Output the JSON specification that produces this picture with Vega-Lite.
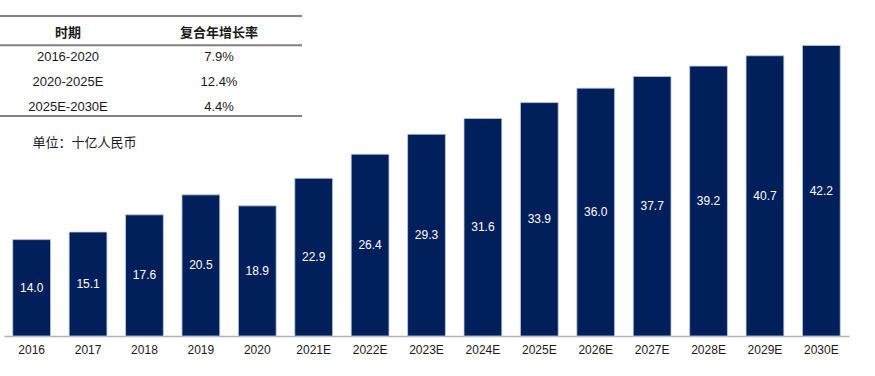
{
  "$schema": "https://vega.github.io/schema/vega-lite/v6.json",
  "width": 845,
  "height": 336,
  "autosize": {"type": "none"},
  "padding": {"left": 4, "top": 0, "right": 26, "bottom": 40},
  "background": "white",
  "config": {
    "view": {"stroke": null},
    "font": "Liberation Sans, Noto Sans CJK SC",
    "text": {"font": "Liberation Sans, Noto Sans CJK SC"}
  },
  "datasets": {
    "market": [
      {"year": "2016", "value": 14.0},
      {"year": "2017", "value": 15.1},
      {"year": "2018", "value": 17.6},
      {"year": "2019", "value": 20.5},
      {"year": "2020", "value": 18.9},
      {"year": "2021E", "value": 22.9},
      {"year": "2022E", "value": 26.4},
      {"year": "2023E", "value": 29.3},
      {"year": "2024E", "value": 31.6},
      {"year": "2025E", "value": 33.9},
      {"year": "2026E", "value": 36.0},
      {"year": "2027E", "value": 37.7},
      {"year": "2028E", "value": 39.2},
      {"year": "2029E", "value": 40.7},
      {"year": "2030E", "value": 42.2}
    ],
    "cagr": [
      {"时期": "2016-2020", "复合年增长率": "7.9%"},
      {"时期": "2020-2025E", "复合年增长率": "12.4%"},
      {"时期": "2025E-2030E", "复合年增长率": "4.4%"}
    ],
    "header": [
      {"col": "时期"},
      {"col": "复合年增长率"}
    ],
    "note": [
      {"note": "单位：十亿人民币"}
    ]
  },
  "layer": [
    {
      "data": {"name": "market"},
      "encoding": {
        "x": {
          "field": "year",
          "type": "nominal",
          "sort": null,
          "scale": {"paddingInner": 0.33, "paddingOuter": 0.155},
          "axis": {
            "title": null,
            "labelAngle": 0,
            "ticks": false,
            "grid": false,
            "domainColor": "#b4b4b4",
            "domainWidth": 1.5,
            "labelFontSize": 12,
            "labelColor": "#1a1a1a",
            "labelPadding": 8,
            "labelFont": "Liberation Sans"
          }
        }
      },
      "layer": [
        {
          "mark": {"type": "bar", "color": "#001f5b", "stroke": "#c3cbdc", "strokeWidth": 0.8},
          "encoding": {
            "y": {
              "field": "value",
              "type": "quantitative",
              "scale": {"domain": [0, 48.8], "nice": false, "zero": true},
              "axis": null
            }
          }
        },
        {
          "mark": {"type": "text", "color": "white", "fontSize": 12, "baseline": "middle", "font": "Liberation Sans"},
          "encoding": {
            "y": {
              "field": "value",
              "type": "quantitative",
              "scale": {"domain": [0, 97.6], "nice": false, "zero": true},
              "axis": null
            },
            "text": {"field": "value", "type": "quantitative", "format": ".1f"}
          }
        }
      ],
      "resolve": {"scale": {"y": "independent"}}
    },
    {
      "layer": [
        {
          "data": {"name": "header"},
          "mark": {"type": "text", "fontSize": 13, "fontWeight": "bold", "color": "#1a1a1a", "dx": -7.5, "dy": 4.5, "baseline": "middle"},
          "encoding": {
            "x": {"field": "col", "type": "nominal", "sort": null,
                  "scale": {"domain": ["时期", "复合年增长率"], "range": [-4, 298], "paddingInner": 0, "paddingOuter": 0}, "axis": null},
            "y": {"datum": "时期", "type": "nominal",
                  "scale": {"domain": ["时期", "2016-2020", "2020-2025E", "2025E-2030E", "单位：十亿人民币"], "range": [16, 141], "paddingInner": 0, "paddingOuter": 0}, "axis": null},
            "text": {"field": "col", "type": "nominal"}
          }
        },
        {
          "data": {"name": "cagr"},
          "transform": [{"fold": ["时期", "复合年增长率"], "as": ["col", "cell"]}],
          "mark": {"type": "text", "fontSize": 13, "color": "#1a1a1a", "dx": -7.5, "dy": 3, "baseline": "middle"},
          "encoding": {
            "x": {"field": "col", "type": "nominal", "sort": null,
                  "scale": {"domain": ["时期", "复合年增长率"], "range": [-4, 298], "paddingInner": 0, "paddingOuter": 0}, "axis": null},
            "y": {"field": "时期", "type": "nominal",
                  "scale": {"domain": ["时期", "2016-2020", "2020-2025E", "2025E-2030E", "单位：十亿人民币"], "range": [16, 141], "paddingInner": 0, "paddingOuter": 0}, "axis": null},
            "text": {"field": "cell", "type": "nominal"}
          }
        },
        {
          "data": {"name": "header"},
          "mark": {"type": "tick", "orient": "horizontal", "size": 151, "thickness": 2, "color": "#4d4d4d"},
          "encoding": {
            "x": {"field": "col", "type": "nominal", "sort": null,
                  "scale": {"domain": ["时期", "复合年增长率"], "range": [-4, 298], "paddingInner": 0, "paddingOuter": 0}, "axis": null},
            "y": {"datum": "时期", "type": "nominal", "bandPosition": 0,
                  "scale": {"domain": ["时期", "2016-2020", "2020-2025E", "2025E-2030E", "单位：十亿人民币"], "range": [16, 141], "paddingInner": 0, "paddingOuter": 0}, "axis": null}
          }
        },
        {
          "data": {"name": "header"},
          "mark": {"type": "tick", "orient": "horizontal", "size": 151, "thickness": 2, "color": "#4d4d4d"},
          "encoding": {
            "x": {"field": "col", "type": "nominal", "sort": null,
                  "scale": {"domain": ["时期", "复合年增长率"], "range": [-4, 298], "paddingInner": 0, "paddingOuter": 0}, "axis": null},
            "y": {"datum": "2016-2020", "type": "nominal", "bandPosition": 0.17,
                  "scale": {"domain": ["时期", "2016-2020", "2020-2025E", "2025E-2030E", "单位：十亿人民币"], "range": [16, 141], "paddingInner": 0, "paddingOuter": 0}, "axis": null}
          }
        },
        {
          "data": {"name": "header"},
          "mark": {"type": "tick", "orient": "horizontal", "size": 151, "thickness": 2, "color": "#4d4d4d"},
          "encoding": {
            "x": {"field": "col", "type": "nominal", "sort": null,
                  "scale": {"domain": ["时期", "复合年增长率"], "range": [-4, 298], "paddingInner": 0, "paddingOuter": 0}, "axis": null},
            "y": {"datum": "2025E-2030E", "type": "nominal", "bandPosition": 1,
                  "scale": {"domain": ["时期", "2016-2020", "2020-2025E", "2025E-2030E", "单位：十亿人民币"], "range": [16, 141], "paddingInner": 0, "paddingOuter": 0}, "axis": null}
          }
        },
        {
          "data": {"name": "note"},
          "mark": {"type": "text", "fontSize": 13, "color": "#1a1a1a", "dx": 9, "dy": 14.5, "baseline": "middle", "font": "Noto Sans CJK SC"},
          "encoding": {
            "x": {"datum": "时期", "type": "nominal",
                  "scale": {"domain": ["时期", "复合年增长率"], "range": [-4, 298], "paddingInner": 0, "paddingOuter": 0}, "axis": null},
            "y": {"field": "note", "type": "nominal",
                  "scale": {"domain": ["时期", "2016-2020", "2020-2025E", "2025E-2030E", "单位：十亿人民币"], "range": [16, 141], "paddingInner": 0, "paddingOuter": 0}, "axis": null},
            "text": {"field": "note", "type": "nominal"}
          }
        }
      ]
    }
  ],
  "resolve": {"scale": {"x": "independent", "y": "independent"}}
}
